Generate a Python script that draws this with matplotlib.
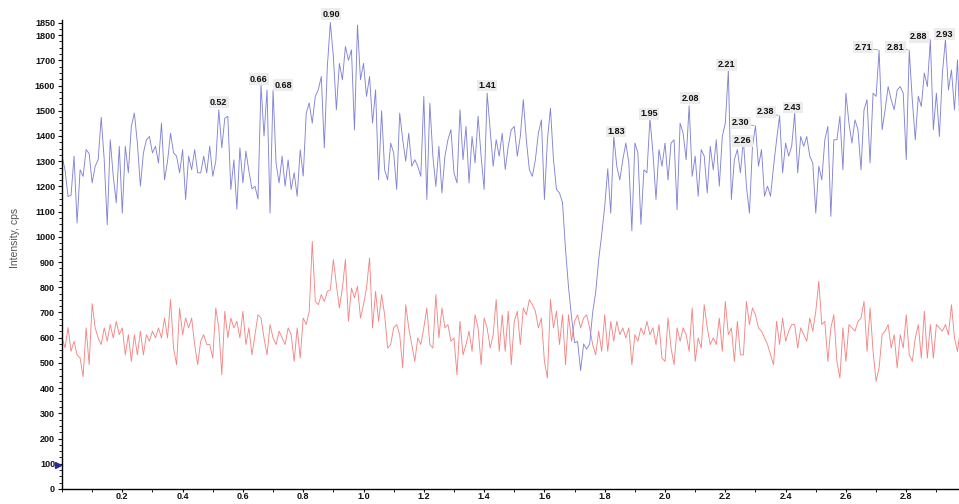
import matplotlib

matplotlib.use("Agg")
import matplotlib.pyplot as plt
import numpy as np
from matplotlib.ticker import MultipleLocator

# scan grid: one point every 0.01 min, 0.00 .. 2.98
SCAN_STEP = 0.01

# upper trace (blue), cps
blue_cps = np.array([
    1320, 1266, 1160, 1165, 1320, 1055, 1266, 1240, 1346, 1330,
    1214, 1280, 1306, 1474, 1306, 1048, 1385, 1240, 1135, 1359,
    1094, 1359, 1254, 1438, 1491, 1372, 1201, 1333, 1385, 1398,
    1333, 1359, 1293, 1451, 1226, 1300, 1411, 1333, 1320, 1254,
    1346, 1148, 1320, 1266, 1346, 1254, 1254, 1320, 1254, 1360,
    1240, 1300, 1504, 1353, 1471, 1478, 1188, 1305, 1110, 1353,
    1214, 1340, 1260, 1190, 1201, 1150, 1603, 1400, 1583, 1094,
    1583, 1292, 1214, 1320, 1201, 1305, 1188, 1254, 1161, 1345,
    1241, 1491, 1531, 1451, 1557, 1583, 1636, 1353, 1675, 1850,
    1715, 1504, 1688, 1623, 1755, 1700, 1742, 1424, 1840, 1623,
    1688, 1557, 1636, 1451, 1583, 1226, 1500, 1266, 1226, 1372,
    1333, 1188, 1491, 1385, 1300, 1411, 1280, 1306, 1280, 1240,
    1557, 1148, 1530, 1320, 1200, 1359, 1174, 1320, 1385, 1425,
    1254, 1214, 1504, 1306, 1438, 1214, 1398, 1293, 1478, 1320,
    1188, 1570, 1425, 1280, 1385, 1320, 1411, 1267, 1359, 1425,
    1438, 1320, 1398, 1544, 1385, 1266, 1240, 1306, 1411, 1464,
    1148, 1385, 1510, 1306, 1188, 1174, 1135, 950, 800, 680,
    580, 585, 470, 575, 555, 575, 700, 780, 910, 1010,
    1120, 1270, 1094, 1400, 1280, 1226, 1306, 1372, 1293, 1024,
    1372, 1333, 1050, 1266, 1254, 1470, 1333, 1148, 1346, 1280,
    1372, 1226, 1372, 1385, 1108, 1451, 1411, 1306, 1520, 1240,
    1320, 1161, 1346, 1320, 1174, 1359, 1266, 1385, 1201, 1398,
    1451, 1660, 1148, 1306, 1346, 1254, 1385, 1201, 1094, 1359,
    1440, 1280, 1346, 1161, 1201, 1161, 1280, 1385, 1480, 1254,
    1372, 1320, 1359, 1491, 1254, 1398, 1359, 1398, 1320, 1293,
    1094, 1280, 1226, 1385, 1438, 1081, 1385, 1385, 1478, 1266,
    1570, 1451, 1372, 1464, 1425, 1266, 1504, 1544, 1293, 1570,
    1557, 1740, 1425, 1504, 1596, 1544, 1504, 1583, 1596, 1570,
    1306, 1740, 1544, 1385, 1557, 1517, 1650, 1596, 1782, 1425,
    1570, 1398, 1650, 1782, 1583, 1662, 1504, 1702, 1380,
])

# lower trace (red), cps
red_cps = np.array([
    600, 560, 640, 546, 586, 532, 520, 445, 639, 493,
    735, 639, 599, 573, 639, 586, 652, 599, 665, 612,
    639, 532, 612, 506, 612, 532, 626, 532, 612, 586,
    626, 599, 639, 599, 678, 599, 751, 559, 493, 718,
    612, 678, 639, 678, 573, 493, 586, 612, 573, 573,
    519, 718, 639, 453, 705, 599, 678, 639, 665, 599,
    705, 573, 639, 532, 612, 691, 678, 599, 532, 652,
    599, 573, 626, 599, 573, 639, 612, 506, 639, 519,
    678, 652, 705, 982, 744, 731, 771, 744, 784, 790,
    910, 810, 718, 797, 910, 665, 797, 758, 804, 678,
    731, 797, 916, 639, 784, 665, 771, 691, 559, 573,
    639, 652, 612, 480, 731, 639, 573, 506, 599, 573,
    639, 718, 573, 559, 771, 599, 718, 639, 652, 586,
    599, 453, 665, 532, 573, 626, 546, 691, 639, 493,
    678, 639, 559, 612, 751, 546, 691, 546, 705, 493,
    665, 705, 573, 718, 691, 751, 731, 705, 639, 678,
    506, 440, 751, 639, 705, 573, 691, 493, 691, 586,
    665, 691, 639, 678, 691, 639, 573, 532, 626, 546,
    691, 546, 665, 586, 665, 612, 639, 599, 639, 493,
    612, 586, 639, 612, 665, 612, 639, 573, 652, 519,
    506, 678, 559, 493, 639, 586, 639, 612, 546, 718,
    506, 599, 559, 731, 639, 573, 599, 573, 678, 546,
    744, 612, 639, 506, 665, 532, 532, 744, 652, 718,
    691, 639, 626, 599, 573, 532, 493, 665, 573, 678,
    586, 626, 652, 652, 559, 639, 612, 586, 678, 626,
    705, 824, 652, 665, 506, 639, 691, 506, 440, 639,
    506, 652, 639, 626, 665, 678, 744, 546, 718, 546,
    427, 480, 612, 626, 652, 559, 612, 480, 612, 559,
    691, 532, 506, 599, 652, 519, 705, 519, 652, 519,
    652, 639, 626, 652, 612, 731, 599, 546, 639,
])

scan_time = np.arange(len(blue_cps)) * SCAN_STEP

# labelled apexes on the blue trace
peak_labels = ["0.52", "0.66", "0.68", "0.90", "1.41", "1.83", "1.95", "2.08",
               "2.21", "2.26", "2.30", "2.38", "2.43", "2.71", "2.81", "2.88", "2.93"]
peak_times = [0.52, 0.66, 0.68, 0.89, 1.41, 1.83, 1.95, 2.08,
              2.21, 2.26, 2.30, 2.38, 2.43, 2.71, 2.81, 2.88, 2.93]

y_ticks = list(range(0, 1900, 100)) + [1850]
x_ticks = [0.2, 0.4, 0.6, 0.8, 1.0, 1.2, 1.4, 1.6, 1.8, 2.0, 2.2, 2.4, 2.6, 2.8]
marker_level = 95

# label placement in pixels: (dx, dy, ha, va, leader)
label_style = {
    "0.52": (0, 3, "center", "bottom", False),
    "0.66": (-2, 1, "center", "bottom", False),
    "0.68": (16, 0, "center", "bottom", False),
    "0.90": (1, 4, "center", "bottom", False),
    "1.41": (0, 3, "center", "bottom", False),
    "1.83": (2, 0, "center", "bottom", False),
    "1.95": (-1, 0, "center", "bottom", False),
    "2.08": (1, 3, "center", "bottom", False),
    "2.21": (-2, 1, "center", "bottom", False),
    "2.26": (-1, -1, "center", "center", False),
    "2.30": (-6, 3, "right", "center", True),
    "2.38": (-5, 4, "right", "center", True),
    "2.43": (-2, 1, "center", "bottom", False),
    "2.71": (-7, 3, "right", "center", True),
    "2.81": (-5, 3, "right", "center", True),
    "2.88": (-3, 3, "right", "center", True),
    "2.93": (-1, 1, "center", "bottom", False),
}

plt.rcParams["font.family"] = ["Liberation Sans", "DejaVu Sans"]

fig = plt.figure(figsize=(9.59, 5.04), dpi=100)
ax = fig.add_axes([62 / 959, 15 / 504, 897 / 959, 469 / 504])

ax.plot(scan_time, red_cps, color="#f38686", linewidth=0.65)
ax.plot(scan_time, blue_cps, color="#8383d6", linewidth=0.65)

ax.set_xlim(0, 2.975)
ax.set_ylim(0, 1860)

for spine in ("top", "right"):
    ax.spines[spine].set_visible(False)
ax.spines["left"].set_linewidth(1.0)
ax.spines["bottom"].set_linewidth(1.0)

ax.set_yticks(y_ticks)
ax.yaxis.set_minor_locator(MultipleLocator(25))
ax.set_xticks(x_ticks)
ax.set_xticklabels([f"{t:.1f}" for t in x_ticks])
ax.xaxis.set_minor_locator(MultipleLocator(0.1))
ax.tick_params(axis="both", which="major", labelsize=6.5, length=3, width=0.8, pad=2, colors="#111111")
ax.tick_params(axis="x", which="major", length=2, pad=0.5)
ax.tick_params(axis="both", which="minor", length=2, width=0.6)
for lab in ax.get_xticklabels() + ax.get_yticklabels():
    lab.set_fontweight("bold")

fig.text(15 / 959, 1 - 238 / 504, "Intensity, cps", rotation=90, ha="center", va="center",
         fontsize=7.5, color="#555555")

ax.plot([-0.012], [marker_level], marker=">", markersize=4.5, color="#2a2a9a",
        linestyle="none", clip_on=False)

for text, t in zip(peak_labels, peak_times):
    idx = int(round(t / SCAN_STEP))
    dx, dy, ha, va, leader = label_style[text]
    arrow = dict(arrowstyle="-", color="#888888", lw=0.5, shrinkA=0, shrinkB=1) if leader else None
    ax.annotate(text, xy=(scan_time[idx], blue_cps[idx]), xytext=(dx, dy),
                textcoords="offset pixels", ha=ha, va=va, fontsize=6.5, fontweight="bold",
                color="#111111", annotation_clip=False, arrowprops=arrow,
                bbox=dict(boxstyle="square,pad=0.15", facecolor="#ececec", edgecolor="none"))

fig.savefig("out.png", dpi=100)
